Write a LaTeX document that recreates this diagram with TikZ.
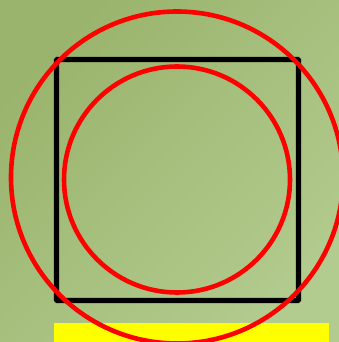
\documentclass[tikz,border=0pt]{standalone}
\usetikzlibrary{calc}
\definecolor{bgdark}{HTML}{9AB46D}
\definecolor{bglight}{HTML}{B2CB8E}
\definecolor{ringred}{HTML}{FF0000}
\definecolor{barfill}{HTML}{FFFF00}
\tikzset{
  backdrop/.style = {top color=bgdark, bottom color=bglight, shading angle=45},
  ring/.style     = {draw=ringred, line width=4.6pt},
  frame/.style    = {draw=black, line width=5.2pt, rounded corners=0.8pt},
  bar/.style      = {fill=barfill, draw=none},
}
\begin{document}
\begin{tikzpicture}[x=1pt, y=-1pt]
  % background, fixes the page size
  \shade[backdrop] (0,0) rectangle (339,342);
  \useasboundingbox (0,0) rectangle (339,342);
  \begin{scope}
    \clip (0,0) rectangle (339,342);
    \fill[bar] (54,323) rectangle (329,342);
    \draw[frame] (56.5,59.5) rectangle (298.5,300.5);
    \draw[ring] (177,177.5) circle (166);
    \draw[ring] (177,179.5) circle (113);
  \end{scope}
\end{tikzpicture}
\end{document}
